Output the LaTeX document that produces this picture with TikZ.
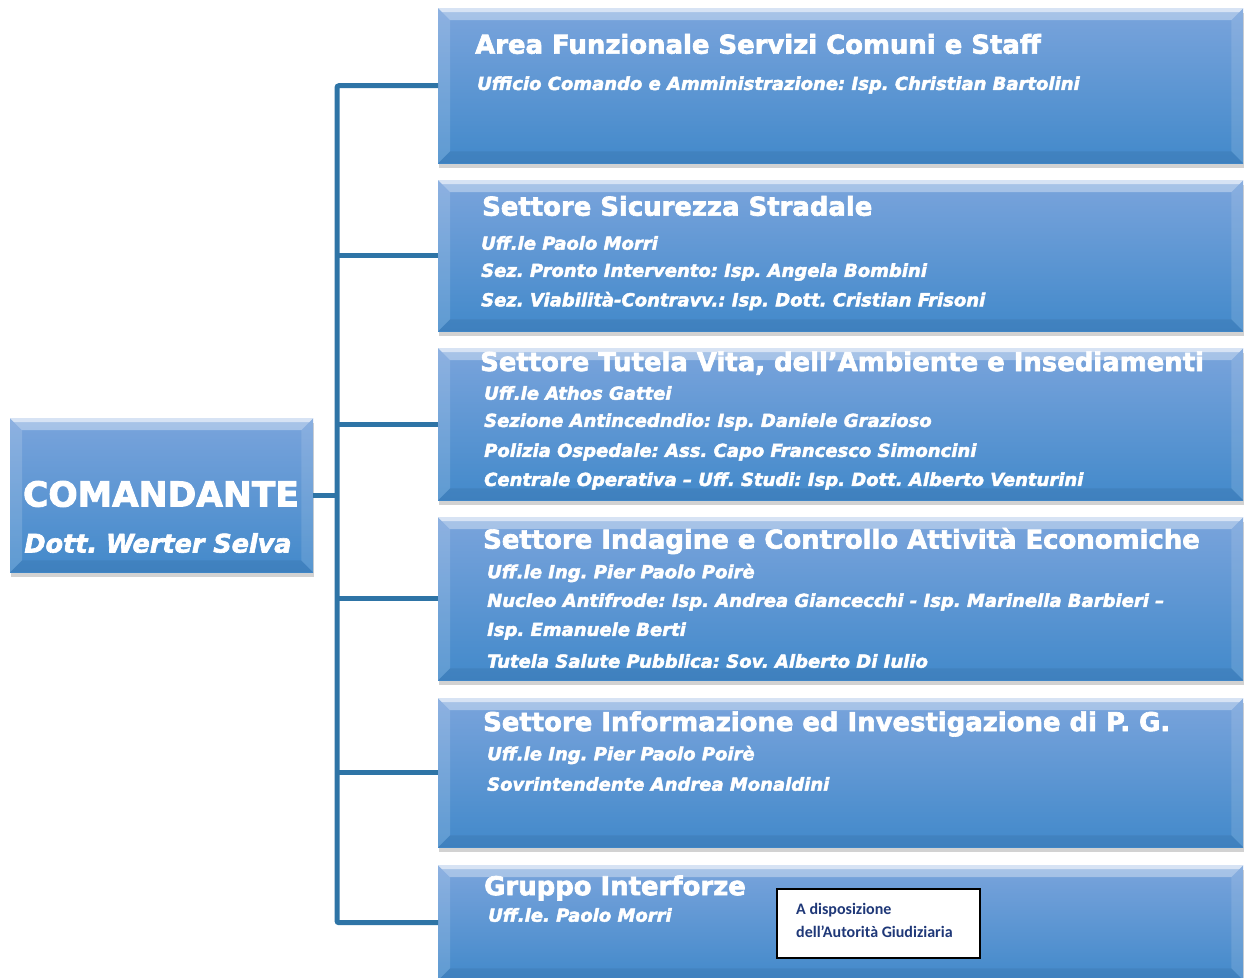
\documentclass[tikz,border=0pt]{standalone}
\usepackage{fontspec}
\setmainfont{DejaVu Sans}[BoldFeatures={FakeBold=2.5}, BoldItalicFeatures={FakeBold=2.5}]
\newfontfamily\calfont{Carlito}
\usetikzlibrary{shadows}
\frenchspacing
\definecolor{boxtop}{RGB}{122,164,220}
\definecolor{boxmid}{RGB}{92,156,218}
\definecolor{boxbot}{RGB}{66,137,202}
\definecolor{conncol}{RGB}{46,116,166}
\definecolor{navy}{RGB}{31,56,120}
\tikzset{
  orgbox/.style={rectangle, inner sep=0pt, anchor=north west, top color=boxtop, middle color=boxmid, bottom color=boxbot,
    drop shadow={shadow xshift=1pt, shadow yshift=-5pt, opacity=0.25, fill=black!70}},
  conn/.style={draw=conncol, line width=5pt, rounded corners=2pt},
  ttl/.style={anchor=west, inner sep=0pt, text=white, font=\bfseries\fontsize{25.9}{30}\selectfont},
  sub/.style={anchor=west, inner sep=0pt, text=white, font=\bfseries\itshape\fontsize{18}{22}\selectfont},
  notebox/.style={draw=black, line width=2pt, fill=white, anchor=north west, inner sep=0pt},
  notetxt/.style={anchor=west, inner sep=0pt, text=navy, font=\calfont\bfseries\fontsize{16}{19}\selectfont}
}
\newcommand\bevel[1]{%
  \fill[white, opacity=0.35] (#1.north west) -- (#1.north east) -- ([shift={(-12,12)}]#1.north east) -- ([shift={(12,12)}]#1.north west) -- cycle;
  \fill[white, opacity=0.55] (#1.north west) -- (#1.north east) -- ([shift={(-4,4)}]#1.north east) -- ([shift={(4,4)}]#1.north west) -- cycle;
  \fill[white, opacity=0.15] (#1.north west) -- ([shift={(12,12)}]#1.north west) -- ([shift={(12,-12)}]#1.south west) -- (#1.south west) -- cycle;
  \fill[black, opacity=0.06] (#1.south west) -- ([shift={(12,-12)}]#1.south west) -- ([shift={(-12,-12)}]#1.south east) -- (#1.south east) -- cycle;
  \fill[white, opacity=0.12] (#1.north east) -- ([shift={(-12,12)}]#1.north east) -- ([shift={(-12,-12)}]#1.south east) -- (#1.south east) -- cycle;
}
\begin{document}
\begin{tikzpicture}[x=1pt,y=-1pt]
\useasboundingbox (0,0) rectangle (1244,977);
\fill[white] (0,0) rectangle (1244,977);

% boxes
\node[orgbox, minimum width=303, minimum height=154] (cmd) at (10,418) {};
\node[orgbox, minimum width=805, minimum height=155] (b1) at (438,8) {};
\node[orgbox, minimum width=805, minimum height=151] (b2) at (438,180) {};
\node[orgbox, minimum width=805, minimum height=152] (b3) at (438,348) {};
\node[orgbox, minimum width=805, minimum height=163] (b4) at (438,517) {};
\node[orgbox, minimum width=805, minimum height=149] (b5) at (438,698) {};
\node[orgbox, minimum width=805, minimum height=115] (b6) at (438,865) {};
\bevel{cmd}\bevel{b1}\bevel{b2}\bevel{b3}\bevel{b4}\bevel{b5}\bevel{b6}

% connectors
\coordinate (trunk) at (337,493);
\draw[conn] (cmd.east) -- (cmd.east -| trunk);
\draw[conn] (b1.west) -- (b1.west -| trunk) -- (b6.west -| trunk) -- (b6.west);
\draw[conn] (b2.west) -- (b2.west -| trunk);
\draw[conn] (b3.west) -- (b3.west -| trunk);
\draw[conn] (b4.west) -- (b4.west -| trunk);
\draw[conn] (b5.west) -- (b5.west -| trunk);

% comandante
\node[anchor=center, inner sep=0pt, text=white, font=\bfseries\fontsize{34.5}{38}\selectfont] (c1) at (161,494) {COMANDANTE};
\node[anchor=center, inner sep=0pt, text=white, font=\bfseries\itshape\fontsize{25.5}{30}\selectfont] (c2) at (158,543) {Dott. Werter Selva};

% box 1
\node[ttl] (t1) at (475,44) {Area Funzionale Servizi Comuni e Staff};
\node[sub] (s1a) at (477,85) {Ufficio Comando e Amministrazione: Isp. Christian Bartolini};

% box 2
\node[ttl] (t2) at (482,206) {Settore Sicurezza Stradale};
\node[sub] (s2a) at (481,243) {Uff.le Paolo Morri};
\node[sub] (s2b) at (481,272) {Sez. Pronto Intervento: Isp. Angela Bombini};
\node[sub] (s2c) at (481,301) {Sez. Viabilità-Contravv.: Isp. Dott. Cristian Frisoni};

% box 3
\node[ttl] (t3) at (480,363) {Settore Tutela Vita, dell’Ambiente e Insediamenti};
\node[sub] (s3a) at (484,393) {Uff.le Athos Gattei};
\node[sub] (s3b) at (484,422) {Sezione Antincedndio: Isp. Daniele Grazioso};
\node[sub] (s3c) at (484,452) {Polizia Ospedale: Ass. Capo Francesco Simoncini};
\node[sub] (s3d) at (484,481) {Centrale Operativa – Uff. Studi: Isp. Dott. Alberto Venturini};

% box 4
\node[ttl] (t4) at (483,541) {Settore Indagine e Controllo Attività Economiche};
\node[sub] (s4a) at (487,573) {Uff.le Ing. Pier Paolo Poirè};
\node[sub] (s4b) at (487,602) {Nucleo Antifrode: Isp. Andrea Giancecchi - Isp. Marinella Barbieri –};
\node[sub] (s4c) at (487,631) {Isp. Emanuele Berti};
\node[sub] (s4d) at (487,661) {Tutela Salute Pubblica: Sov. Alberto Di Iulio};

% box 5
\node[ttl] (t5) at (483,724) {Settore Informazione ed Investigazione di P. G.};
\node[sub] (s5a) at (487,755) {Uff.le Ing. Pier Paolo Poirè};
\node[sub] (s5b) at (487,784) {Sovrintendente Andrea Monaldini};

% box 6
\node[ttl] (t6) at (484,888) {Gruppo Interforze};
\node[sub] (s6a) at (488,915) {Uff.le. Paolo Morri};
\node[notebox, minimum width=203, minimum height=69] (note) at (776,888) {};
\node[notetxt] (n1) at (796,910) {A disposizione};
\node[notetxt] (n2) at (796,932) {dell’Autorità Giudiziaria};
\end{tikzpicture}
\end{document}
